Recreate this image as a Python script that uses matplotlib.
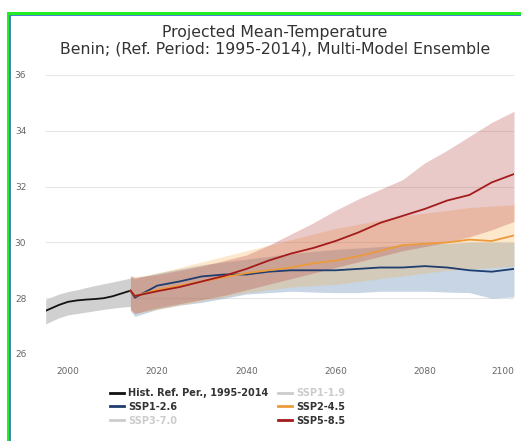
import matplotlib

matplotlib.use("Agg")
import matplotlib.pyplot as plt
from matplotlib.lines import Line2D
from matplotlib.patches import Rectangle

# historical reference period
HIST_YEARS = [1995, 1998, 2000, 2002, 2004, 2006, 2008, 2010, 2012, 2014]
HIST_MEAN = [27.55, 27.76, 27.87, 27.92, 27.95, 27.97, 28.0, 28.07, 28.17, 28.27]
HIST_LOW = [27.08, 27.3, 27.4, 27.45, 27.5, 27.55, 27.6, 27.64, 27.68, 27.7]
HIST_HIGH = [27.96, 28.15, 28.24, 28.3, 28.38, 28.45, 28.52, 28.58, 28.65, 28.72]

# projections (multi-model median and 10-90th percentile)
FUT_YEARS = [2014, 2015, 2020, 2025, 2030, 2035, 2040, 2045, 2050, 2055, 2060,
             2065, 2070, 2075, 2080, 2085, 2090, 2095, 2100]

SSP126_MEAN = [28.27, 28.02, 28.45, 28.6, 28.78, 28.85, 28.85, 28.95, 29.0, 29.0, 29.0,
               29.05, 29.1, 29.1, 29.15, 29.1, 29.0, 28.95, 29.05]
SSP126_LOW = [27.55, 27.35, 27.6, 27.75, 27.85, 28.0, 28.15, 28.2, 28.25, 28.22, 28.2,
              28.2, 28.25, 28.25, 28.25, 28.22, 28.2, 28.0, 28.05]
SSP126_HIGH = [28.75, 28.7, 28.9, 29.05, 29.2, 29.3, 29.4, 29.5, 29.6, 29.68, 29.75,
               29.8, 29.85, 29.9, 29.95, 29.97, 30.0, 30.0, 30.0]

SSP245_MEAN = [28.27, 28.08, 28.3, 28.45, 28.6, 28.75, 28.9, 29.0, 29.1, 29.25, 29.35,
               29.5, 29.7, 29.9, 29.95, 30.0, 30.1, 30.05, 30.25]
SSP245_LOW = [27.6, 27.45, 27.6, 27.75, 27.9, 28.05, 28.2, 28.3, 28.4, 28.45, 28.5,
              28.6, 28.7, 28.8, 28.9, 29.0, 29.05, 29.1, 29.15]
SSP245_HIGH = [28.8, 28.75, 28.9, 29.1, 29.3, 29.5, 29.7, 29.9, 30.1, 30.3, 30.5,
               30.65, 30.8, 30.95, 31.05, 31.15, 31.25, 31.3, 31.35]

SSP585_MEAN = [28.27, 28.08, 28.25, 28.4, 28.6, 28.8, 29.05, 29.35, 29.6, 29.8, 30.05,
               30.35, 30.7, 30.95, 31.2, 31.5, 31.7, 32.15, 32.45]
SSP585_LOW = [27.6, 27.45, 27.65, 27.8, 27.95, 28.1, 28.3, 28.5, 28.7, 28.9, 29.1,
              29.3, 29.5, 29.7, 29.85, 30.0, 30.2, 30.45, 30.75]
SSP585_HIGH = [28.8, 28.75, 28.85, 29.0, 29.15, 29.35, 29.55, 29.9, 30.3, 30.7, 31.15,
               31.55, 31.9, 32.25, 32.85, 33.3, 33.8, 34.3, 34.7]

Y_TICKS = [26, 28, 30, 32, 34, 36]
X_TICKS = [2000, 2020, 2040, 2060, 2080, 2100]

TITLE = "Projected Mean-Temperature\nBenin; (Ref. Period: 1995-2014), Multi-Model Ensemble"

W, H = 521, 441


def fx(px):
    return px / W


def fy(py):
    return 1 - py / H


def main() -> None:
    fig = plt.figure(figsize=(W / 100, H / 100), dpi=100)
    fig.patch.set_facecolor("white")

    ax = fig.add_axes([fx(45.7), fy(354), fx(514) - fx(45.7), fy(75) - fy(354)])
    ax.set_xlim(1995, 2100)
    ax.set_ylim(26, 36)

    # bands
    ax.fill_between(HIST_YEARS, HIST_LOW, HIST_HIGH, color="#d0d0d0", lw=0, zorder=1)
    ax.fill_between(FUT_YEARS, SSP126_LOW, SSP126_HIGH, color="#4876ac", alpha=0.3, lw=0, zorder=1)
    ax.fill_between(FUT_YEARS, SSP245_LOW, SSP245_HIGH, color="#f8af48", alpha=0.28, lw=0, zorder=1)
    ax.fill_between(FUT_YEARS, SSP585_LOW, SSP585_HIGH, color="#b53a3a", alpha=0.27, lw=0, zorder=1)

    # lines
    lw = 1.3
    ax.plot(HIST_YEARS, HIST_MEAN, color="#111111", lw=lw, zorder=3)
    ax.plot(FUT_YEARS, SSP126_MEAN, color="#1f3d6e", lw=lw, zorder=3)
    ax.plot(FUT_YEARS, SSP245_MEAN, color="#ec9a3a", lw=lw, zorder=3)
    ax.plot(FUT_YEARS, SSP585_MEAN, color="#a31b1b", lw=lw, zorder=3)

    ax.set_yticks(Y_TICKS)
    ax.set_xticks(X_TICKS)
    ax.grid(axis="y", color="#e6e6e6", lw=0.8)
    ax.set_axisbelow(True)
    for s in ax.spines.values():
        s.set_visible(False)
    ax.tick_params(length=0, labelsize=6.5, labelcolor="#666666")
    ax.tick_params(axis="y", pad=14)
    ax.tick_params(axis="x", pad=9)
    xlabels = ax.get_xticklabels()
    xlabels[-1].set_horizontalalignment("right")

    fig.text(fx(275), fy(41), TITLE, ha="center", va="center", fontsize=11.3,
             color="#333333", linespacing=1.15)

    # legend, two columns
    def entry(color):
        return Line2D([], [], color=color, lw=2)

    col1 = [("Hist. Ref. Per., 1995-2014", "#111111", True),
            ("SSP1-2.6", "#1f3d6e", True),
            ("SSP3-7.0", "#cccccc", False)]
    col2 = [("SSP1-1.9", "#cccccc", False),
            ("SSP2-4.5", "#ec9a3a", True),
            ("SSP5-8.5", "#a31b1b", True)]

    for items, xpos in [(col1, 110), (col2, 278)]:
        leg = fig.legend(
            [entry(c) for _, c, _ in items],
            [t for t, _, _ in items],
            loc="upper left",
            bbox_to_anchor=(fx(xpos), fy(388)),
            frameon=False,
            fontsize=7,
            handlelength=1.4,
            handletextpad=0.5,
            labelspacing=0.4,
            borderpad=0,
            borderaxespad=0,
        )
        for txt, (_, c, on) in zip(leg.get_texts(), items):
            txt.set_color("#333333" if on else "#cccccc")
            txt.set_fontweight("bold")

    # frame lines around the screenshot
    fig.add_artist(Rectangle((fx(7), fy(15)), 1, fy(12) - fy(15), transform=fig.transFigure,
                             color="#22ee22", lw=0, zorder=10))
    fig.add_artist(Rectangle((fx(9), fy(16)), 1, fy(15) - fy(16), transform=fig.transFigure,
                             color="#4a7fd0", lw=0, zorder=10))
    fig.add_artist(Rectangle((fx(7), 0), fx(9) - fx(7), fy(12), transform=fig.transFigure,
                             color="#22ee22", lw=0, zorder=10))
    fig.add_artist(Rectangle((fx(9), 0), fx(11) - fx(9), fy(15), transform=fig.transFigure,
                             color="#4a7fd0", lw=0, zorder=10))

    fig.savefig("out.png", dpi=100)
    plt.close(fig)


if __name__ == "__main__":
    main()
